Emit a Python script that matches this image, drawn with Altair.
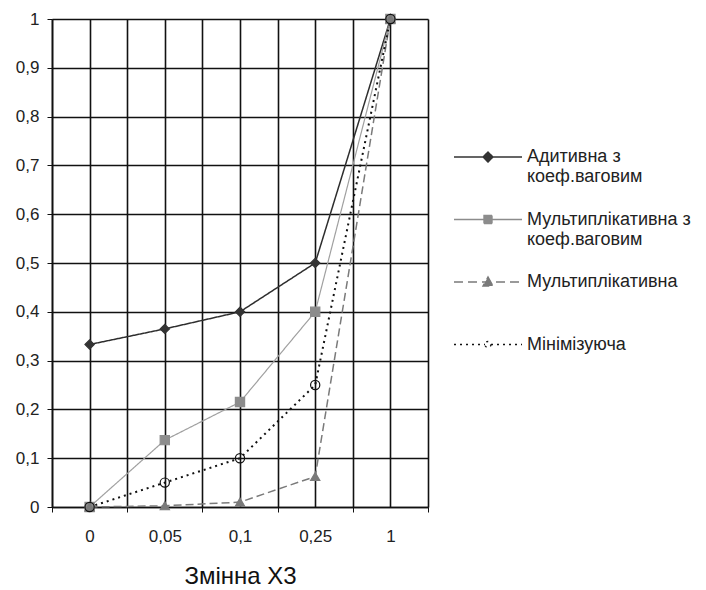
import json
import numpy as np
import pandas as pd
import altair as alt

# ---- data ----
x_labels = ["0", "0,05", "0,1", "0,25", "1"]
series_names = [
    "Адитивна з коеф.ваговим",
    "Мультиплікативна з коеф.ваговим",
    "Мультиплікативна",
    "Мінімізуюча",
]
additive_w = [0.333, 0.365, 0.4, 0.5, 1.0]
multiplicative_w = [0.0, 0.137, 0.215, 0.4, 1.0]
multiplicative = [0.0, 0.0025, 0.01, 0.0625, 1.0]
minimizing = [0.0, 0.05, 0.1, 0.25, 1.0]
y_ticks = [round(v, 1) for v in np.arange(0, 1.01, 0.1)]

# ---- styles ----
line_colors = ["#2e2e2e", "#a0a0a0", "#7a7a7a", "#111111"]
line_dashes = [[1, 0], [1, 0], [8, 4], [2, 4]]
legend_dashes = [[1, 0], [1, 0], [9, 5], [2, 4]]
line_widths = [1.5, 1.2, 1.5, 2.0]
point_shapes = ["diamond", "square", "triangle-up", "circle"]
point_fills = ["#333333", "#8c8c8c", "#7a7a7a", "transparent"]
point_strokes = ["#333333", "#8c8c8c", "#7a7a7a", "#111111"]
legend_paths = [
    "M-6.8,0L6.8,0M0,-1L1,0L0,1L-1,0Z",
    "M-6.8,0L6.8,0M-0.8,-0.8L0.8,-0.8L0.8,0.8L-0.8,0.8Z",
    "M-6.8,0L6.8,0M0,-1L1,0.8L-1,0.8Z",
    "M-6.8,0L-0.6,0M0.6,0L6.8,0M0.6,0A0.6,0.6,0,1,1,-0.6,0A0.6,0.6,0,1,1,0.6,0Z",
]

rows = []
for name, vals in zip(series_names, [additive_w, multiplicative_w, multiplicative, minimizing]):
    for i, v in enumerate(vals):
        rows.append({"series": name, "idx": i, "label": x_labels[i], "value": v})
df = pd.DataFrame(rows)

n = len(x_labels)
x_grid = [float(v) for v in np.arange(-0.5, n - 0.5 + 0.01, 0.5)]
label_expr = f"datum.value % 1 == 0 ? {json.dumps(x_labels)}[datum.value] : ''"

FONT = "Liberation Sans"

x_enc = alt.X(
    "idx:Q",
    scale=alt.Scale(domain=[-0.5, n - 0.5], nice=False, zero=False),
    axis=alt.Axis(
        values=x_grid,
        labelExpr=label_expr,
        title="Змінна X3",
        titleFont=FONT,
        titleFontSize=24,
        titleFontWeight="normal",
        titleColor="#111",
        titlePadding=20,
        labelFont=FONT,
        labelFontSize=17,
        labelColor="#222",
        labelPadding=16,
        tickSize=5,
        tickColor="#111",
        tickOpacity={"condition": {"test": "datum.value % 1 != 0", "value": 1}, "value": 0},
        grid=True,
        gridColor="#111",
        gridWidth=1.6,
        gridOpacity=1,
        domainColor="#111",
        domainWidth=1.6,
    ),
)
y_axis = alt.Axis(
    values=y_ticks,
    labelExpr="replace(format(datum.value, '.1~f'), '.', ',')",
    title=None,
    labelFont=FONT,
    labelFontSize=17,
    labelColor="#222",
    labelPadding=8,
    tickSize=5,
    tickColor="#111",
    grid=True,
    gridColor="#111",
    gridWidth=1.6,
    gridOpacity=1,
    domainColor="#111",
    domainWidth=1.6,
)
y_scale = alt.Scale(domain=[0, 1], nice=False)
y_enc = alt.Y("value:Q", scale=y_scale, axis=y_axis, title=None)

base = alt.Chart(df)

line_layers = []
point_layers = []
for k, name in enumerate(series_names):
    sub = base.transform_filter(alt.datum.series == name)
    line_layers.append(
        sub.mark_line(
            color=line_colors[k], strokeDash=line_dashes[k], strokeWidth=line_widths[k]
        ).encode(x=x_enc, y=y_enc)
    )
    point_layers.append(
        sub.mark_point(
            shape=point_shapes[k], fill=point_fills[k], stroke=point_strokes[k],
            strokeWidth=1.2, size=85, opacity=1, filled=False,
        ).encode(x=x_enc, y=y_enc)
    )

# legend-only layer: its marks fall outside the clipped plot, only the legend is seen
legend_layer = base.transform_filter("datum.idx == 0").transform_calculate(
    hidden="datum.value + 5"
).mark_point(clip=True, filled=False, opacity=1).encode(
    x=x_enc,
    y=alt.Y("hidden:Q", scale=y_scale, axis=y_axis, title=None),
    shape=alt.Shape(
        "series:N", sort=series_names,
        scale=alt.Scale(domain=series_names, range=legend_paths),
        legend=alt.Legend(
            title=None,
            orient="none",
            legendX=427,
            legendY=129,
            symbolSize=100,
            symbolStrokeWidth=1.4,
            symbolOpacity=1,
            labelFont=FONT,
            labelFontSize=18,
            labelColor="#222",
            labelOffset=30,
            labelLimit=300,
            rowPadding=24.5,
            padding=0,
            labelExpr="indexof(datum.label, ' коеф') >= 0 ? split(replace(datum.label, ' коеф', '|коеф'), '|') : [datum.label, ' ']",
        ),
    ),
    strokeDash=alt.StrokeDash("series:N", sort=series_names,
                              scale=alt.Scale(domain=series_names, range=legend_dashes)),
    fill=alt.Fill("series:N", sort=series_names,
                  scale=alt.Scale(domain=series_names, range=point_fills)),
    stroke=alt.Stroke("series:N", sort=series_names,
                      scale=alt.Scale(domain=series_names, range=point_strokes)),
)

chart = (
    alt.layer(*line_layers, *point_layers, legend_layer)
    .properties(
        width=376,
        height=488,
        autosize=alt.AutoSizeParams(type="none"),
        padding={"left": 52, "top": 19, "right": 278, "bottom": 83},
        background="white",
    )
    .configure_view(stroke=None)
)

chart.save("out.html", embed_options={"renderer": "svg", "actions": False})
